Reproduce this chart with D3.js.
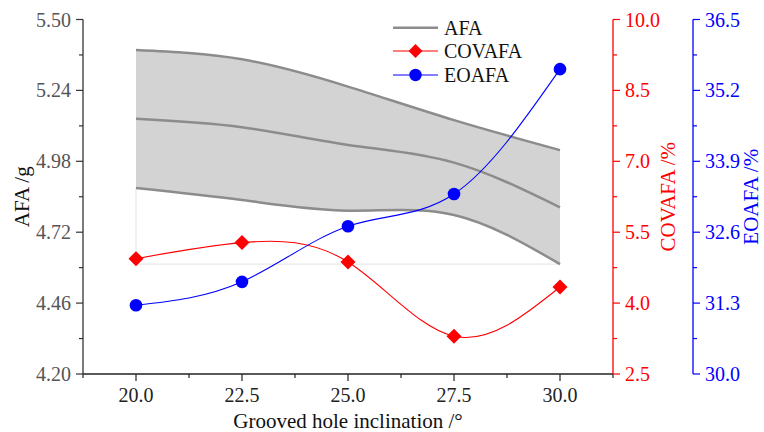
<!DOCTYPE html>
<html><head><meta charset="utf-8">
<script src="https://cdn.jsdelivr.net/npm/d3@7/dist/d3.min.js"></script>
<style>body{margin:0;background:#fff}svg{display:block}text{font-family:"Liberation Serif","Times New Roman",serif}</style>
</head><body><svg id="c" width="764" height="432"></svg>
<script>
const inclination = [20.0, 22.5, 25.0, 27.5, 30.0];
const afaUpper = [5.388, 5.354, 5.254, 5.131, 5.021];
const afaMean  = [5.136, 5.105, 5.040, 4.975, 4.811];
const afaLower = [4.882, 4.838, 4.799, 4.783, 4.603];
const covafa = [4.94, 5.28, 4.87, 3.30, 4.34];
const eoafa  = [31.26, 31.69, 32.71, 33.30, 35.59];
const xTicks = [20.0, 22.5, 25.0, 27.5, 30.0];
const afaTicks = [4.20, 4.46, 4.72, 4.98, 5.24, 5.50];
const covTicks = [2.5, 4.0, 5.5, 7.0, 8.5, 10.0];
const eoTicks = [30.0, 31.3, 32.6, 33.9, 35.2, 36.5];

const svg = d3.select("#c");
const L = 83, R = 613, T = 19.5, B = 374;
const RED_AX = 613, BLUE_AX = 693;
const x = d3.scaleLinear().domain([18.75, 31.25]).range([L, R]);
const yA = d3.scaleLinear().domain([4.2, 5.5]).range([B, T]);
const yC = d3.scaleLinear().domain([2.5, 10]).range([B, T]);
const yE = d3.scaleLinear().domain([30, 36.5]).range([B, T]);

const mids = a => a.slice(1).map((v,i)=>(v+a[i])/2);
const curve = d3.curveNatural;

// faint baseline frame beneath lower curve
const lastLow = afaLower[afaLower.length-1];
svg.append("path")
  .attr("d", `M${x(inclination[0])},${yA(afaLower[0])}V${yA(lastLow)}H${x(inclination[inclination.length-1])}`)
  .attr("fill","none").attr("stroke","#e2e2e2").attr("stroke-width",1);

// band
const band = d3.area().x((d,i)=>x(inclination[i])).y0((d,i)=>yA(afaLower[i])).y1(d=>yA(d)).curve(curve);
svg.append("path").datum(afaUpper).attr("d", band).attr("fill","#d3d3d3");
[afaUpper, afaMean, afaLower].forEach(s=>{
  svg.append("path").datum(s)
    .attr("d", d3.line().x((d,i)=>x(inclination[i])).y(d=>yA(d)).curve(curve))
    .attr("fill","none").attr("stroke","#8c8c8c").attr("stroke-width",2.5);
});

// COVAFA
svg.append("path").datum(covafa)
  .attr("d", d3.line().x((d,i)=>x(inclination[i])).y(d=>yC(d)).curve(curve))
  .attr("fill","none").attr("stroke","#ff0000").attr("stroke-width",1.1);
const diamond = (cx,cy,h)=>`M${cx},${cy-h}L${cx+h},${cy}L${cx},${cy+h}L${cx-h},${cy}Z`;
svg.selectAll(".dm").data(covafa).enter().append("path")
  .attr("d",(d,i)=>diamond(x(inclination[i]), yC(d), 7.5)).attr("fill","#ff0000");

// EOAFA
svg.append("path").datum(eoafa)
  .attr("d", d3.line().x((d,i)=>x(inclination[i])).y(d=>yE(d)).curve(curve))
  .attr("fill","none").attr("stroke","#0000ff").attr("stroke-width",1.1);
svg.selectAll(".ci").data(eoafa).enter().append("circle")
  .attr("cx",(d,i)=>x(inclination[i])).attr("cy",d=>yE(d)).attr("r",6.3).attr("fill","#0000ff");

// X axis
const g = svg.append("g");
g.append("line").attr("x1",L).attr("x2",R).attr("y1",B).attr("y2",B).attr("stroke","#222").attr("stroke-width",1.3);
xTicks.forEach(t=>{
  g.append("line").attr("x1",x(t)).attr("x2",x(t)).attr("y1",B).attr("y2",B+7).attr("stroke","#222").attr("stroke-width",1.2);
  g.append("text").attr("x",x(t)).attr("y",402).attr("text-anchor","middle").attr("font-size",20).attr("fill","#222").text(t.toFixed(1));
});
[18.75].concat(xTicks.map(t=>t+1.25)).forEach(t=>{
  g.append("line").attr("x1",x(t)).attr("x2",x(t)).attr("y1",B).attr("y2",B+4).attr("stroke","#222").attr("stroke-width",1.2);
});
g.append("text").attr("x",(x(20)+x(30))/2).attr("y",428).attr("text-anchor","middle").attr("font-size",21).attr("fill","#111").text("Grooved hole inclination /°");

// Y axes
function yAxis(ax, scale, ticks, color, labColor, dir, fmt){
  const a = svg.append("g");
  a.append("line").attr("x1",ax).attr("x2",ax).attr("y1",T).attr("y2",B).attr("stroke",color).attr("stroke-width",1.3);
  ticks.forEach(t=>{
    a.append("line").attr("x1",ax).attr("x2",ax+dir*7).attr("y1",scale(t)).attr("y2",scale(t)).attr("stroke",color).attr("stroke-width",1.2);
    a.append("text").attr("x",ax+dir*12).attr("y",scale(t)+7).attr("text-anchor",dir<0?"end":"start")
      .attr("font-size",20).attr("fill",labColor).text(t.toFixed(fmt));
  });
  mids(ticks).forEach(t=>{
    a.append("line").attr("x1",ax).attr("x2",ax+dir*4).attr("y1",scale(t)).attr("y2",scale(t)).attr("stroke",color).attr("stroke-width",1.2);
  });
}
yAxis(L, yA, afaTicks, "#333", "#555", -1, 2);
yAxis(RED_AX, yC, covTicks, "#ff0000", "#ff0000", 1, 1);
yAxis(BLUE_AX, yE, eoTicks, "#0000ff", "#0000ff", 1, 1);

const cy = (T+B)/2;
svg.append("text").attr("transform",`translate(28.5,${cy}) rotate(-90)`).attr("text-anchor","middle").attr("font-size",21).attr("fill","#111").text("AFA /g");
svg.append("text").attr("transform",`translate(675,${cy}) rotate(-90)`).attr("text-anchor","middle").attr("font-size",21).attr("fill","#ff0000").text("COVAFA /%");
svg.append("text").attr("transform",`translate(758,${cy}) rotate(-90)`).attr("text-anchor","middle").attr("font-size",21).attr("fill","#0000ff").text("EOAFA /%");

// Legend
const legend = [
  {name:"AFA", color:"#8c8c8c", w:2.5, m:null, y:27.7},
  {name:"COVAFA", color:"#ff0000", w:1.1, m:"d", y:51},
  {name:"EOAFA", color:"#0000ff", w:1.1, m:"c", y:75}
];
legend.forEach(l=>{
  svg.append("line").attr("x1",393).attr("x2",438).attr("y1",l.y).attr("y2",l.y).attr("stroke",l.color).attr("stroke-width",l.w);
  if(l.m==="d") svg.append("path").attr("d",diamond(415.5,l.y,7)).attr("fill",l.color);
  if(l.m==="c") svg.append("circle").attr("cx",415.5).attr("cy",l.y).attr("r",6.2).attr("fill",l.color);
  svg.append("text").attr("x",444).attr("y",l.y+6.8).attr("font-size",20).attr("fill","#111").text(l.name);
});
</script></body></html>
